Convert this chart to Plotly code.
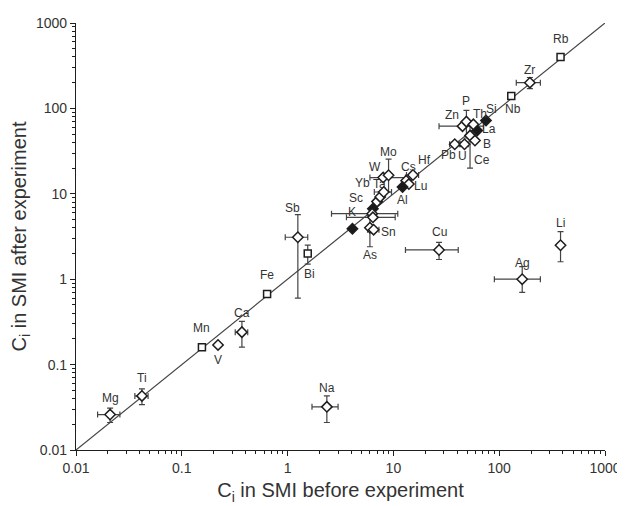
import math
import plotly.graph_objects as go

# ---------------- data ----------------
elements = ["Mg", "Ti", "Mn", "V", "Ca", "Fe", "Sb", "Bi", "Na", "K", "As", "Sn",
            "Sc", "Yb", "Ta", "W", "Mo", "Cs", "Hf", "Lu", "Al", "Cu", "Pb", "U",
            "Ce", "B", "La", "Zn", "P", "Th", "Si", "Nb", "Zr", "Rb", "Ag", "Li",
            "", "", ""]
c_before = [0.021, 0.042, 0.155, 0.22, 0.37, 0.64, 1.25, 1.55, 2.35, 4.1, 6.0, 6.5,
            7.0, 7.5, 8.1, 8.0, 9.0, 13.2, 15.3, 14.0, 12.2, 27.0, 38.0, 47.0,
            53.0, 59.0, 62.0, 45.0, 49.0, 57.0, 75.0, 130.0, 195.0, 380.0, 165.0, 380.0,
            6.4, 6.3, 6.4]
c_after = [0.026, 0.043, 0.16, 0.17, 0.24, 0.67, 3.1, 2.0, 0.032, 3.9, 4.0, 3.8,
           8.1, 9.2, 10.5, 15.5, 16.5, 14.2, 16.6, 13.0, 12.0, 2.2, 38.0, 38.0,
           48.0, 42.0, 55.0, 62.0, 70.0, 65.0, 72.0, 140.0, 200.0, 400.0, 1.0, 2.5,
           6.7, 5.85, 5.3]
nan = float("nan")
x_err_plus = [0.005, 0.006, nan, nan, 0.05, nan, 0.3, nan, 0.65, nan, nan, 0.8,
              nan, nan, 1.5, 5.0, nan, nan, 2.0, nan, nan, 14.0, 4.0, 4.0,
              nan, nan, nan, 26.0, nan, nan, nan, nan, 50.0, nan, 80.0, nan,
              nan, 4.7, 4.0]
x_err_minus = [0.005, 0.006, nan, nan, 0.05, nan, 0.3, nan, 0.65, nan, nan, 0.8,
               nan, nan, 1.5, 2.0, nan, nan, 2.0, nan, nan, 14.0, 4.0, 4.0,
               nan, nan, nan, 18.0, nan, nan, nan, nan, 50.0, nan, 75.0, nan,
               nan, 3.7, 2.8]
y_err_plus = [0.005, 0.009, nan, nan, 0.08, nan, 2.6, 0.5, 0.011, nan, 1.5, nan,
              nan, nan, nan, nan, 9.0, nan, nan, nan, nan, 0.5, nan, nan,
              24.0, nan, nan, nan, 25.0, nan, nan, nan, 30.0, nan, 0.4, 1.1,
              nan, nan, nan]
y_err_minus = [0.005, 0.009, nan, nan, 0.08, nan, 2.5, 0.5, 0.011, nan, 1.6, nan,
               nan, nan, nan, nan, 6.0, nan, nan, nan, nan, 0.5, nan, nan,
               28.0, nan, nan, nan, 25.0, nan, nan, nan, 30.0, nan, 0.3, 0.9,
               nan, nan, nan]
marker_kind = ["o", "o", "s", "o", "o", "s", "o", "s", "o", "f", "o", "o",
               "o", "o", "o", "o", "o", "o", "o", "o", "f", "o", "o", "o",
               "o", "o", "f", "o", "o", "o", "f", "s", "o", "s", "o", "o",
               "f", "o", "o"]
line_x = [0.01, 1000]
line_y = [0.01, 1000]
tick_vals = [0.01, 0.1, 1, 10, 100, 1000]
tick_text = ["0.01", "0.1", "1", "10", "100", "1000"]

# ---------------- styles ----------------
label_shift = {
    "Mg": (0, 17), "Ti": (0, 18), "Mn": (0, 19), "V": (0, -15), "Ca": (0, 19),
    "Fe": (0, 19), "Na": (0, 19), "Bi": (2, -21), "Sb": (-5, 29), "K": (0, 17),
    "As": (0, -27), "Sn": (15, -2), "Sc": (-21, 4), "Yb": (-18, 14), "Ta": (-4, 8),
    "W": (-8, 11), "Mo": (0, 23), "Cs": (2, 14), "Hf": (12, 15), "Lu": (12, -2),
    "Al": (0, -13), "Cu": (0, 18), "Ag": (0, 16), "Li": (0, 22), "Pb": (-6, -11),
    "U": (-2, -12), "Ce": (12, -24), "B": (12, -3), "La": (12, 2), "Zn": (-11, 11),
    "P": (0, 21), "Th": (7, 10), "Si": (6, 12), "Nb": (2, -13), "Zr": (0, 13),
    "Rb": (0, 18),
}
sym_map = {"o": "diamond", "s": "square", "f": "diamond"}
fill_map = {"o": "#ffffff", "s": "#ffffff", "f": "#1a1a1a"}
ink = "#1e1e1e"
font_family = "Liberation Sans, Arial, sans-serif"

fig = go.Figure()
fig.add_trace(go.Scatter(x=line_x, y=line_y, mode="lines",
                         line=dict(color="#444444", width=1.2),
                         hoverinfo="skip", showlegend=False))
fig.add_trace(go.Scatter(
    x=c_before, y=c_after, mode="markers", text=elements, showlegend=False,
    marker=dict(symbol=[sym_map[k] for k in marker_kind],
                color=[fill_map[k] for k in marker_kind],
                opacity=1,
                size=[7 if k == "s" else 8 for k in marker_kind],
                line=dict(color=ink, width=1.5)),
    error_x=dict(type="data", symmetric=False, array=x_err_plus,
                 arrayminus=x_err_minus, color="#444444", thickness=1.2, width=3),
    error_y=dict(type="data", symmetric=False, array=y_err_plus,
                 arrayminus=y_err_minus, color="#444444", thickness=1.2, width=3),
))

for name, xv, yv in zip(elements, c_before, c_after):
    if not name:
        continue
    dx, dy = label_shift.get(name, (0, 16))
    fig.add_annotation(x=math.log10(xv), y=math.log10(yv), text=name,
                       showarrow=False, xshift=dx, yshift=dy,
                       font=dict(size=12, color="#333333", family=font_family))

minor_vals = [m * 10 ** e for e in range(-2, 3) for m in range(2, 10)]

axis_common = dict(
    type="log", range=[-2, 3], showgrid=False, zeroline=False, automargin=False,
    showline=True, linecolor=ink, linewidth=1.2, mirror=False,
    ticks="outside", ticklen=5, tickwidth=1.2, tickcolor=ink,
    tickvals=tick_vals, ticktext=tick_text,
    tickfont=dict(size=14, color="#333333", family=font_family),
    minor=dict(tickvals=minor_vals, ticks="outside", ticklen=3,
               tickwidth=1, tickcolor=ink, showgrid=False),
)

# the page adds an 8px body margin, so the plot box is offset accordingly
fig.update_layout(
    width=625, height=506,
    margin=dict(l=68, r=28, t=15, b=64, autoexpand=False),
    paper_bgcolor="white", plot_bgcolor="white",
    font=dict(family=font_family, color="#333333"),
    xaxis=dict(**axis_common,
               title=dict(text="C<sub>i</sub> in SMI before experiment",
                          font=dict(size=20, color="#333333"), standoff=8)),
    yaxis=dict(**axis_common,
               title=dict(text="C<sub>i</sub> in SMI after experiment",
                          font=dict(size=20, color="#333333"), standoff=6)),
)

fig.write_html("out.html")
